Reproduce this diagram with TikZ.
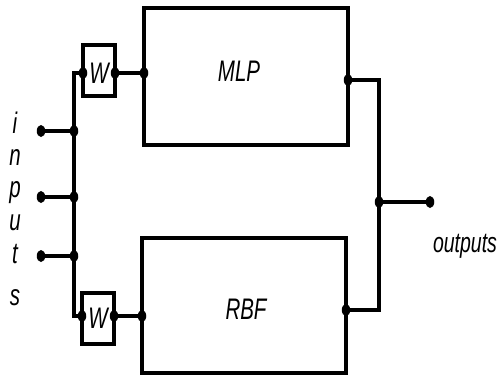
\documentclass[tikz,border=0pt]{standalone}
\usepackage{fontspec}
\setmainfont{Liberation Sans}
\usetikzlibrary{shapes.geometric}
\tikzset{
  blk/.style={draw, line width=3.4pt, rectangle, inner sep=0pt},
  wire/.style={line width=3.2pt},
  dotnode/.style={ellipse, fill=black, inner sep=0pt, minimum width=8.5pt, minimum height=12pt},
  lbl/.style={font=\fontsize{20.5}{24}\selectfont\itshape, inner sep=0pt},
  ltr/.style={font=\fontsize{20.5}{24}\selectfont\itshape, inner sep=0pt, anchor=base},
}
\newcommand{\vs}[1]{\scalebox{1}[1.45]{#1}}
\begin{document}
\begin{tikzpicture}[x=1pt,y=-1pt]
\useasboundingbox (0,0) rectangle (501,376);
% blocks
\node[blk, minimum width=204pt, minimum height=137pt] (mlp) at (246,76.5) {};
\node[blk, minimum width=204pt, minimum height=135pt] (rbf) at (244,305.5) {};
\node[blk, minimum width=32pt, minimum height=51pt] (w1) at (99,70.5) {};
\node[blk, minimum width=32pt, minimum height=51pt] (w2) at (98,318.5) {};
\node[lbl] (w1t) at (99,73) {\vs{W}};
\node[lbl] (w2t) at (98,318) {\vs{W}};
\node[lbl] (mlpt) at (239,71) {\vs{MLP}};
\node[lbl] (rbft) at (246,309) {\vs{RBF}};
\node[lbl, font=\fontsize{19.5}{24}\selectfont\itshape] (outt) at (465,246) {\vs{outputs}};
% inputs letters
\node[ltr] (li) at (15,133) {\vs{i}};
\node[ltr] (ln) at (15,165) {\vs{n}};
\node[ltr] (lp) at (15,197) {\vs{p}};
\node[ltr] (lu) at (15,230) {\vs{u}};
\node[ltr] (lt) at (15,263) {\vs{t}};
\node[ltr] (ls) at (15,305) {\vs{s}};
% dots
\node[dotnode] (in1) at (41,131) {};
\node[dotnode] (in2) at (41,197) {};
\node[dotnode] (in3) at (41,256) {};
\node[dotnode] (j1) at (74,131) {};
\node[dotnode] (j2) at (74,197) {};
\node[dotnode] (j3) at (74,256) {};
\node[dotnode] (w1l) at (83,73) {};
\node[dotnode] (w1r) at (115,73) {};
\node[dotnode] (m1) at (144,73) {};
\node[dotnode] (w2l) at (82,316) {};
\node[dotnode] (w2r) at (114,316) {};
\node[dotnode] (r1) at (142,316) {};
\node[dotnode] (mo) at (348,80) {};
\node[dotnode] (ro) at (346,310) {};
\node[dotnode] (oj) at (379,202) {};
\node[dotnode] (out) at (430,202) {};
% wires
\draw[wire] (w1l.center) -| (74,316) -- (w2l.center);
\draw[wire] (in1.center) -- (j1.center);
\draw[wire] (in2.center) -- (j2.center);
\draw[wire] (in3.center) -- (j3.center);
\draw[wire] (w1r.center) -- (m1.center);
\draw[wire] (w2r.center) -- (r1.center);
\draw[wire] (mo.center) -| (oj.center) |- (ro.center);
\draw[wire] (oj.center) -- (out.center);
\end{tikzpicture}
\end{document}
